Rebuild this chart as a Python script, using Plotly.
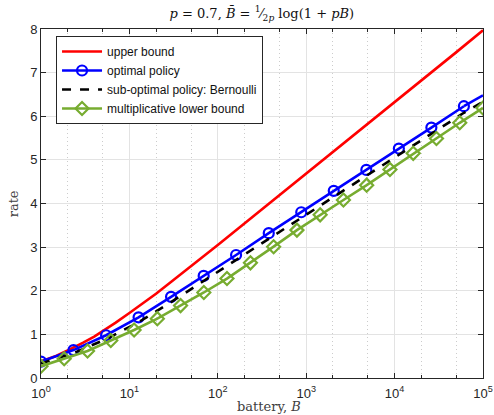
import plotly.graph_objects as go

# ---- data ----
ub_B = [1, 1.25, 1.5, 2, 2.5, 3, 4, 5, 7, 10, 13, 15, 20, 30, 50, 70, 100, 200, 500, 1000, 2000, 5000,
        1e4, 2e4, 5e4, 1e5]
ub_rate = [0.38, 0.45, 0.51, 0.63, 0.72, 0.81, 0.95, 1.07, 1.27, 1.49, 1.65, 1.74, 1.93, 2.21, 2.56, 2.79,
           3.05, 3.54, 4.19, 4.68, 5.18, 5.83, 6.32, 6.82, 7.47, 7.97]

opt_B = [1, 2.33, 5.45, 12.7, 29.6, 69.2, 161, 377, 879, 2050, 4790, 11170, 26060, 60810]
opt_rate = [0.375, 0.64, 0.98, 1.39, 1.86, 2.34, 2.82, 3.32, 3.80, 4.29, 4.77, 5.26, 5.74, 6.23]
opt_end_B = [60810, 1e5]
opt_end_rate = [6.23, 6.48]

bern_B = [1, 2.33, 5.45, 12.7, 29.6, 69.2, 161, 377, 879, 2050, 4790, 11170, 26060, 60810, 1e5]
bern_rate = [0.33, 0.57, 0.89, 1.28, 1.74, 2.22, 2.69, 3.19, 3.67, 4.15, 4.63, 5.12, 5.59, 6.08, 6.33]

lb_B = [1, 1.83, 3.36, 6.16, 11.3, 20.7, 37.9, 69.5, 127, 234, 428, 785, 1438, 2637, 4833,
        8859, 16240, 29760, 54560, 1e5]
lb_rate = [0.27, 0.44, 0.62, 0.86, 1.10, 1.36, 1.66, 1.96, 2.28, 2.64, 3.01, 3.39, 3.74, 4.08, 4.42,
           4.78, 5.15, 5.49, 5.85, 6.19]

x_tickvals = [1, 10, 100, 1000, 10000, 100000]
x_ticktext = ["10<sup>0</sup>", "10<sup>1</sup>", "10<sup>2</sup>", "10<sup>3</sup>", "10<sup>4</sup>", "10<sup>5</sup>"]
y_tickvals = [0, 1, 2, 3, 4, 5, 6, 7, 8]

RED = "#ff0000"
BLUE = "#0000ff"
GREEN = "#77ac30"
LW = 2.6

fig = go.Figure()

fig.add_trace(go.Scatter(x=ub_B, y=ub_rate, mode="lines", line=dict(color=RED, width=LW),
                         name="upper bound"))
fig.add_trace(go.Scatter(x=opt_end_B, y=opt_end_rate, mode="lines", line=dict(color=BLUE, width=LW),
                         showlegend=False, hoverinfo="skip"))
fig.add_trace(go.Scatter(x=opt_B, y=opt_rate, mode="lines+markers", line=dict(color=BLUE, width=LW),
                         marker=dict(symbol="circle-open", size=10, color=BLUE, line=dict(width=2.2)),
                         name="optimal policy"))
fig.add_trace(go.Scatter(x=bern_B, y=bern_rate, mode="lines", line=dict(color="black", width=LW, dash="dash"),
                         name="sub-optimal policy: Bernoulli"))
fig.add_trace(go.Scatter(x=lb_B, y=lb_rate, mode="lines+markers", line=dict(color=GREEN, width=LW),
                         marker=dict(symbol="diamond-open", size=10, color=GREEN, line=dict(width=2.2)),
                         name="multiplicative lower bound"))

axis_common = dict(
    showline=True, linecolor="#262626", linewidth=1, mirror="ticks",
    ticks="inside", ticklen=5, tickcolor="#262626",
    tickfont=dict(family="Liberation Sans, Arial, sans-serif", size=13, color="#262626"),
    gridcolor="#e3e3e3", gridwidth=1, zeroline=False, automargin=False,
)

fig.update_xaxes(
    type="log", range=[0, 5], tickvals=x_tickvals, ticktext=x_ticktext, ticklabelstandoff=3,
    minor=dict(ticks="inside", ticklen=3, tickcolor="#262626", showgrid=True,
               gridcolor="#cccccc", griddash="1px,3px", gridwidth=1),
    **axis_common,
)
fig.update_yaxes(
    range=[0, 8], tickvals=y_tickvals,
    **axis_common,
)

serif = "DejaVu Serif, serif"
fig.update_layout(
    width=494, height=415,
    margin=dict(l=41, r=11, t=29, b=37),
    paper_bgcolor="white", plot_bgcolor="white",
    title=dict(text="<i>p</i> = 0.7, <i>B̄</i> = <sup>1</sup>⁄<sub>2<i>p</i></sub> log(1 + <i>pB</i>)",
               x=0.53, xanchor="center", y=0.968, yanchor="middle",
               font=dict(family=serif, size=13, color="#111111")),
    legend=dict(x=0.034, y=0.98, xanchor="left", yanchor="top",
                bgcolor="white", bordercolor="#262626", borderwidth=1,
                font=dict(family="Liberation Sans, Arial, sans-serif", size=12, color="#111111"),
                tracegroupgap=0, itemwidth=40),
    showlegend=True,
    annotations=[
        dict(text="battery, <i>B</i>", xref="paper", yref="paper", x=0.515, y=-0.055,
             xanchor="center", yanchor="top", showarrow=False,
             font=dict(family=serif, size=13, color="#404040")),
        dict(text="rate", xref="paper", yref="paper", x=-0.04, y=0.5, textangle=-90,
             xanchor="right", yanchor="middle", showarrow=False,
             font=dict(family=serif, size=13, color="#404040")),
    ],
)

fig.write_html("out.html", post_script="document.body.style.margin='0';",
               config={"displayModeBar": False})
